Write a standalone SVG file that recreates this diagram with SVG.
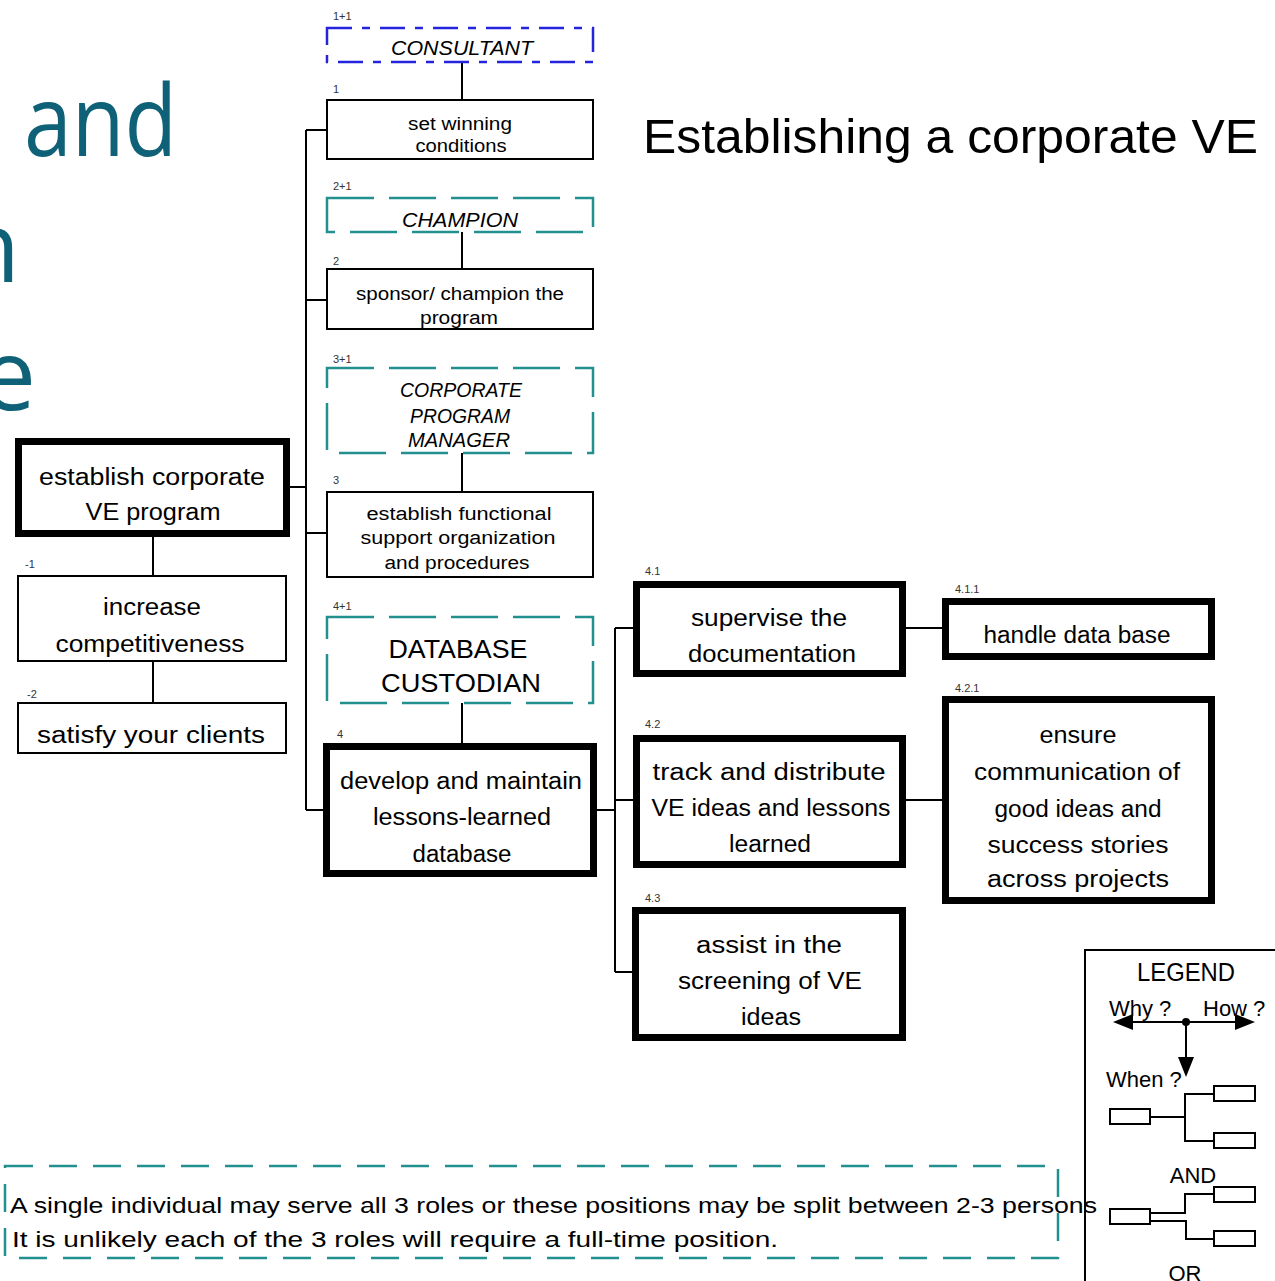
<svg xmlns="http://www.w3.org/2000/svg" width="1275" height="1281" viewBox="0 0 1275 1281">
  <defs>
    <style>
      .t { font-family: "Liberation Sans", Arial, sans-serif; fill: #000; text-anchor: middle; }
      .big { font-size: 23px; }
      .sm { font-size: 18px; }
      .role { font-size: 20px; font-style: italic; }
      .num { font-family: "Liberation Sans", Arial, sans-serif; font-size: 11px; fill: #333; }
      .thin { fill: #fff; stroke: #000; stroke-width: 2; }
      .thick { fill: #fff; stroke: #000; stroke-width: 7; }
      .teal { fill: none; stroke: #22908f; stroke-width: 2.5; stroke-dasharray: 47 15; }
      .blue { fill: none; stroke: #2424dd; stroke-width: 2.5; stroke-dasharray: 25 10 8 10; }
      .wire { fill: none; stroke: #000; stroke-width: 2; }
      .slide { font-family: "Open Sans", "Noto Sans", sans-serif; font-size: 98px; fill: #0e6177; }
    </style>
  </defs>

  <rect width="1275" height="1281" fill="#fff"/>

  <!-- clipped slide heading fragments -->
  <g id="slide-heading">
    <text class="slide" x="24" y="156" textLength="153" lengthAdjust="spacingAndGlyphs">and</text>
    <text class="slide" x="20" y="282" text-anchor="end">n</text>
    <text class="slide" x="36" y="410" text-anchor="end">e</text>
  </g>

  <!-- title -->
  <text id="title" x="643" y="153" font-family="Liberation Sans, Arial, sans-serif" font-size="48" textLength="615" lengthAdjust="spacingAndGlyphs">Establishing a corporate VE</text>

  <!-- connectors -->
  <g id="connectors">
    <!-- role boxes to tasks -->
    <line class="wire" x1="462" y1="62" x2="462" y2="100"/>
    <line class="wire" x1="462" y1="232" x2="462" y2="269"/>
    <line class="wire" x1="462" y1="453" x2="462" y2="492"/>
    <line class="wire" x1="462" y1="703" x2="462" y2="743"/>
    <!-- main spine -->
    <polyline class="wire" points="290,487 306,487"/>
    <line class="wire" x1="306" y1="130" x2="306" y2="810"/>
    <line class="wire" x1="306" y1="130" x2="327" y2="130"/>
    <line class="wire" x1="306" y1="300" x2="327" y2="300"/>
    <line class="wire" x1="306" y1="533" x2="327" y2="533"/>
    <line class="wire" x1="306" y1="810" x2="323" y2="810"/>
    <!-- why chain -->
    <line class="wire" x1="153" y1="537" x2="153" y2="575"/>
    <line class="wire" x1="153" y1="661" x2="153" y2="702"/>
    <!-- second level spine -->
    <line class="wire" x1="597" y1="810" x2="615" y2="810"/>
    <line class="wire" x1="615" y1="628" x2="615" y2="972"/>
    <line class="wire" x1="615" y1="628" x2="633" y2="628"/>
    <line class="wire" x1="615" y1="800" x2="633" y2="800"/>
    <line class="wire" x1="615" y1="972" x2="632" y2="972"/>
    <!-- third level -->
    <line class="wire" x1="906" y1="628" x2="942" y2="628"/>
    <line class="wire" x1="906" y1="800" x2="942" y2="800"/>
  </g>

  <!-- roles -->
  <g id="consultant">
    <rect class="blue" x="327" y="28" width="266" height="34"/>
    <text class="num" x="333" y="20">1+1</text>
    <text class="t role" x="462" y="55" textLength="142" lengthAdjust="spacingAndGlyphs">CONSULTANT</text>
  </g>
  <g id="champion">
    <rect class="teal" x="327" y="198" width="266" height="34"/>
    <text class="num" x="333" y="190">2+1</text>
    <text class="t role" x="460" y="227" textLength="116" lengthAdjust="spacingAndGlyphs">CHAMPION</text>
  </g>
  <g id="program-manager">
    <rect class="teal" x="327" y="368" width="266" height="85"/>
    <text class="num" x="333" y="363">3+1</text>
    <text class="t role" x="461" y="397" textLength="122" lengthAdjust="spacingAndGlyphs">CORPORATE</text>
    <text class="t role" x="460" y="423" textLength="100" lengthAdjust="spacingAndGlyphs">PROGRAM</text>
    <text class="t role" x="459" y="447" textLength="102" lengthAdjust="spacingAndGlyphs">MANAGER</text>
  </g>
  <g id="database-custodian">
    <rect class="teal" x="327" y="617" width="266" height="86"/>
    <text class="num" x="333" y="610">4+1</text>
    <text class="t" font-size="25" x="458" y="658" textLength="139" lengthAdjust="spacingAndGlyphs">DATABASE</text>
    <text class="t" font-size="25" x="461" y="692" textLength="160" lengthAdjust="spacingAndGlyphs">CUSTODIAN</text>
  </g>

  <!-- tasks -->
  <g id="task-1">
    <rect class="thin" x="327" y="100" width="266" height="59"/>
    <text class="num" x="333" y="93">1</text>
    <text class="t sm" x="460" y="130" textLength="104" lengthAdjust="spacingAndGlyphs">set winning</text>
    <text class="t sm" x="461" y="152" textLength="91" lengthAdjust="spacingAndGlyphs">conditions</text>
  </g>
  <g id="task-2">
    <rect class="thin" x="327" y="269" width="266" height="60"/>
    <text class="num" x="333" y="265">2</text>
    <text class="t sm" x="460" y="300" textLength="208" lengthAdjust="spacingAndGlyphs">sponsor/ champion the</text>
    <text class="t sm" x="459" y="324" textLength="78" lengthAdjust="spacingAndGlyphs">program</text>
  </g>
  <g id="task-3">
    <rect class="thin" x="327" y="492" width="266" height="85"/>
    <text class="num" x="333" y="484">3</text>
    <text class="t sm" x="459" y="520" textLength="185" lengthAdjust="spacingAndGlyphs">establish functional</text>
    <text class="t sm" x="458" y="544" textLength="195" lengthAdjust="spacingAndGlyphs">support organization</text>
    <text class="t sm" x="457" y="569" textLength="145" lengthAdjust="spacingAndGlyphs">and procedures</text>
  </g>
  <g id="task-4">
    <rect class="thick" x="326.5" y="746.5" width="267" height="127"/>
    <text class="num" x="337" y="738">4</text>
    <text class="t big" x="461" y="789" textLength="242" lengthAdjust="spacingAndGlyphs">develop and maintain</text>
    <text class="t big" x="462" y="825" textLength="178" lengthAdjust="spacingAndGlyphs">lessons-learned</text>
    <text class="t big" x="462" y="862" textLength="99" lengthAdjust="spacingAndGlyphs">database</text>
  </g>

  <g id="task-4-1">
    <rect class="thick" x="636.5" y="584.5" width="266" height="89"/>
    <text class="num" x="645" y="575">4.1</text>
    <text class="t big" x="769" y="626" textLength="156" lengthAdjust="spacingAndGlyphs">supervise the</text>
    <text class="t big" x="772" y="662" textLength="168" lengthAdjust="spacingAndGlyphs">documentation</text>
  </g>
  <g id="task-4-2">
    <rect class="thick" x="636.5" y="738.5" width="266" height="126"/>
    <text class="num" x="645" y="728">4.2</text>
    <text class="t big" x="769" y="780" textLength="233" lengthAdjust="spacingAndGlyphs">track and distribute</text>
    <text class="t big" x="771" y="816" textLength="239" lengthAdjust="spacingAndGlyphs">VE ideas and lessons</text>
    <text class="t big" x="770" y="852" textLength="82" lengthAdjust="spacingAndGlyphs">learned</text>
  </g>
  <g id="task-4-3">
    <rect class="thick" x="635.5" y="910.5" width="267" height="127"/>
    <text class="num" x="645" y="902">4.3</text>
    <text class="t big" x="769" y="953" textLength="146" lengthAdjust="spacingAndGlyphs">assist in the</text>
    <text class="t big" x="770" y="989" textLength="184" lengthAdjust="spacingAndGlyphs">screening of VE</text>
    <text class="t big" x="771" y="1025" textLength="60" lengthAdjust="spacingAndGlyphs">ideas</text>
  </g>
  <g id="task-4-1-1">
    <rect class="thick" x="945.5" y="601.5" width="266" height="55"/>
    <text class="num" x="955" y="593">4.1.1</text>
    <text class="t big" x="1077" y="643" textLength="187" lengthAdjust="spacingAndGlyphs">handle data base</text>
  </g>
  <g id="task-4-2-1">
    <rect class="thick" x="945.5" y="699.5" width="266" height="201"/>
    <text class="num" x="955" y="692">4.2.1</text>
    <text class="t big" x="1078" y="743" textLength="77" lengthAdjust="spacingAndGlyphs">ensure</text>
    <text class="t big" x="1077" y="780" textLength="206" lengthAdjust="spacingAndGlyphs">communication of</text>
    <text class="t big" x="1078" y="817" textLength="167" lengthAdjust="spacingAndGlyphs">good ideas and</text>
    <text class="t big" x="1078" y="853" textLength="181" lengthAdjust="spacingAndGlyphs">success stories</text>
    <text class="t big" x="1078" y="887" textLength="182" lengthAdjust="spacingAndGlyphs">across projects</text>
  </g>

  <!-- goal and why chain -->
  <g id="goal">
    <rect class="thick" x="18.5" y="441.5" width="268" height="92"/>
    <text class="t big" x="152" y="485" textLength="226" lengthAdjust="spacingAndGlyphs">establish corporate</text>
    <text class="t big" x="153" y="520" textLength="135" lengthAdjust="spacingAndGlyphs">VE program</text>
  </g>
  <g id="why-1">
    <rect class="thin" x="18" y="576" width="268" height="85"/>
    <text class="num" x="25" y="568">-1</text>
    <text class="t big" x="152" y="615" textLength="98" lengthAdjust="spacingAndGlyphs">increase</text>
    <text class="t big" x="150" y="652" textLength="189" lengthAdjust="spacingAndGlyphs">competitiveness</text>
  </g>
  <g id="why-2">
    <rect class="thin" x="18" y="703" width="268" height="50"/>
    <text class="num" x="27" y="698">-2</text>
    <text class="t big" x="151" y="743" textLength="228" lengthAdjust="spacingAndGlyphs">satisfy your clients</text>
  </g>

  <!-- note -->
  <g id="note">
    <rect x="5" y="1166" width="1053" height="92" fill="none" stroke="#22908f" stroke-width="2.5" stroke-dasharray="28 16"/>
    <text x="10" y="1213" font-family="Liberation Sans, Arial, sans-serif" font-size="22" textLength="1087" lengthAdjust="spacingAndGlyphs">A single individual may serve all 3 roles or these positions may be split between 2-3 persons</text>
    <text x="12" y="1247" font-family="Liberation Sans, Arial, sans-serif" font-size="22" textLength="766" lengthAdjust="spacingAndGlyphs">It is unlikely each of the 3 roles will require a full-time position.</text>
  </g>

  <!-- legend -->
  <g id="legend" font-family="Liberation Sans, Arial, sans-serif" font-size="22">
    <rect x="1085" y="950" width="220" height="360" fill="none" stroke="#000" stroke-width="2"/>
    <text x="1186" y="981" text-anchor="middle" font-size="25" textLength="98" lengthAdjust="spacingAndGlyphs">LEGEND</text>
    <text x="1109" y="1016">Why ?</text>
    <text x="1203" y="1016">How ?</text>
    <line x1="1125" y1="1022" x2="1243" y2="1022" stroke="#000" stroke-width="2"/>
    <polygon points="1113,1022 1133,1014 1133,1030" fill="#000"/>
    <polygon points="1255,1022 1235,1014 1235,1030" fill="#000"/>
    <circle cx="1186" cy="1022" r="4" fill="#000"/>
    <line x1="1186" y1="1022" x2="1186" y2="1060" stroke="#000" stroke-width="2"/>
    <polygon points="1178,1057 1194,1057 1186,1077" fill="#000"/>
    <text x="1106" y="1087">When ?</text>
    <!-- AND -->
    <rect x="1110" y="1109" width="40" height="15" fill="#fff" stroke="#000" stroke-width="2"/>
    <rect x="1214" y="1086" width="41" height="15" fill="#fff" stroke="#000" stroke-width="2"/>
    <rect x="1214" y="1133" width="41" height="15" fill="#fff" stroke="#000" stroke-width="2"/>
    <polyline points="1150,1117 1185,1117" fill="none" stroke="#000" stroke-width="2"/>
    <polyline points="1214,1094 1185,1094 1185,1141 1214,1141" fill="none" stroke="#000" stroke-width="2"/>
    <text x="1193" y="1183" text-anchor="middle">AND</text>
    <!-- OR -->
    <rect x="1110" y="1209" width="40" height="15" fill="#fff" stroke="#000" stroke-width="2"/>
    <rect x="1214" y="1187" width="41" height="15" fill="#fff" stroke="#000" stroke-width="2"/>
    <rect x="1214" y="1231" width="41" height="15" fill="#fff" stroke="#000" stroke-width="2"/>
    <polyline points="1150,1213 1185,1213 1185,1194 1214,1194" fill="none" stroke="#000" stroke-width="2"/>
    <polyline points="1150,1221 1186,1221 1186,1239 1214,1239" fill="none" stroke="#000" stroke-width="2"/>
    <text x="1185" y="1281" text-anchor="middle">OR</text>
  </g>
</svg>
